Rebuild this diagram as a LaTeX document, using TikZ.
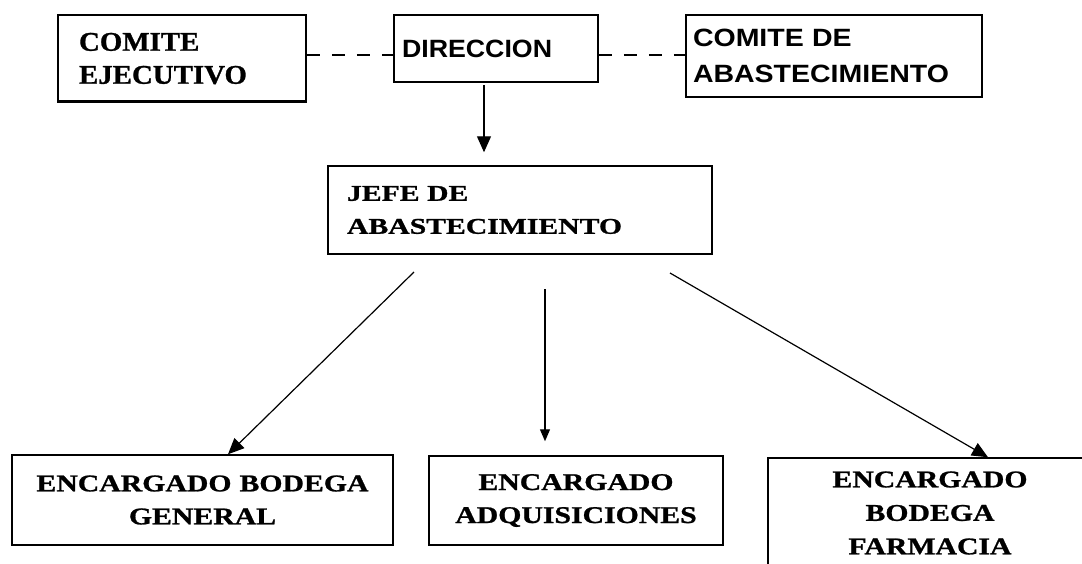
\documentclass[tikz,border=0pt]{standalone}
\usepackage{fontspec}
\usetikzlibrary{arrows.meta}
\newfontfamily\ceFont{Liberation Serif}[FakeStretch=1.07,FakeBold=1]
\newfontfamily\jfFont{Liberation Serif}[FakeStretch=1.32,FakeBold=1]
\newfontfamily\enFont{Liberation Serif}[FakeStretch=1.24,FakeBold=1]
\newfontfamily\arFontA{Liberation Sans}[FakeStretch=1.07]
\newfontfamily\arFontB{Liberation Sans}[FakeStretch=1.14]
\tikzset{
  box/.style={draw, line width=1.5pt, inner ysep=0pt},
  conn/.style={line width=1.2pt},
  arr/.style={conn, -{Triangle[length=16pt,width=14pt]}},
  arrsmall/.style={conn, -{Triangle[length=12pt,width=10pt]}},
  dashline/.style={conn, dash pattern=on 13pt off 12pt}
}
\begin{document}
\begin{tikzpicture}[x=1pt,y=-1pt]
\clip (0,0) rectangle (1082,563);
\fill[white] (0,0) rectangle (1082,563);

\node[box, minimum width=248pt, minimum height=87pt, text width=206pt, inner xsep=21pt, align=left,
  font=\ceFont\bfseries\fontsize{27}{33}\selectfont] (ce) at (182,58.5) {COMITE\\EJECUTIVO};
\node[box, minimum width=204pt, minimum height=67pt, text width=188pt, inner xsep=8pt, align=left,
  font=\arFontA\bfseries\fontsize{25}{30}\selectfont] (dir) at (496,48.5) {DIRECCION};
\node[box, minimum width=296pt, minimum height=82pt, text width=282pt, inner xsep=7pt, align=left,
  font=\arFontB\bfseries\fontsize{25}{36}\selectfont] (cda) at (834,56) {COMITE DE\\ABASTECIMIENTO};
\node[box, minimum width=384pt, minimum height=88pt, text width=346pt, inner xsep=19pt, align=left,
  font=\jfFont\bfseries\fontsize{22.5}{33}\selectfont] (jefe) at (520,210) {JEFE DE\\ABASTECIMIENTO};

\node[box, minimum width=381pt, minimum height=90pt, text width=361pt, inner xsep=10pt, align=center,
  font=\enFont\bfseries\fontsize{24}{33}\selectfont] (ebg) at (202.5,500) {ENCARGADO BODEGA\\GENERAL};
\node[box, minimum width=294pt, minimum height=89pt, text width=274pt, inner xsep=10pt, align=center,
  font=\enFont\bfseries\fontsize{24}{33}\selectfont] (ea) at (576,500.5) {ENCARGADO\\ADQUISICIONES};
\node[box, minimum width=324pt, minimum height=110pt, text width=304pt, inner xsep=10pt, align=center,
  font=\enFont\bfseries\fontsize{24}{33.5}\selectfont] (efb) at (930,513) {ENCARGADO\\BODEGA\\FARMACIA};

\draw[line width=3pt] ([yshift=0.8pt]ce.south west) -- ([yshift=0.8pt]ce.south east);

\coordinate (dl) at (0,55);
\coordinate (d1) at (484,85);
\coordinate (jl) at (414,272);
\coordinate (jm) at (545,289);
\coordinate (jr) at (670,273);

\draw[dashline] (ce.east |- dl) -- (dir.west |- dl);
\draw[dashline] (dir.east |- dl) -- (cda.west |- dl);

\draw[arr, shorten >=13pt] (d1) -- (d1 |- jefe.north);
\draw[arr] (jl) -- ([xshift=25.5pt]ebg.north);
\draw[arrsmall, shorten >=14pt] (jm) -- (jm |- ea.north);
\draw[arr] (jr) -- ([xshift=58pt]efb.north);
\end{tikzpicture}
\end{document}
